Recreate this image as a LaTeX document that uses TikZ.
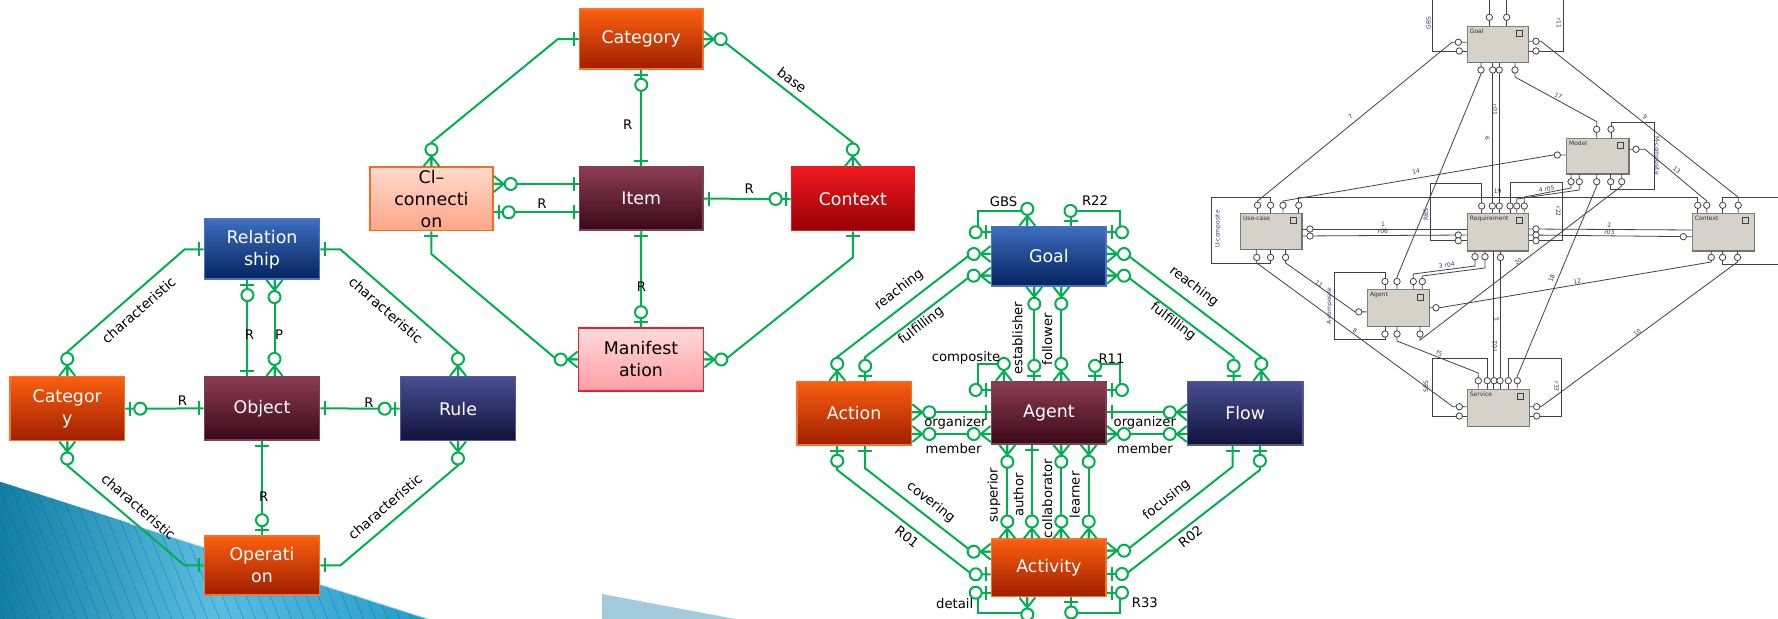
\documentclass[tikz,border=0pt]{standalone}
\usepackage{fontspec}
\setmainfont{DejaVu Sans}
\usetikzlibrary{calc}
\definecolor{erg}{RGB}{0,176,80}
\definecolor{orT}{RGB}{250,95,15}\definecolor{orB}{RGB}{160,30,0}\definecolor{orD}{RGB}{245,115,45}
\definecolor{blT}{RGB}{60,110,190}\definecolor{blB}{RGB}{5,35,95}\definecolor{blD}{RGB}{75,115,195}
\definecolor{mrT}{RGB}{140,60,82}\definecolor{mrB}{RGB}{58,8,24}\definecolor{mrD}{RGB}{125,65,85}
\definecolor{nvT}{RGB}{72,78,145}\definecolor{nvB}{RGB}{16,18,58}\definecolor{nvD}{RGB}{85,90,150}
\definecolor{rdT}{RGB}{240,25,30}\definecolor{rdB}{RGB}{150,0,5}\definecolor{rdD}{RGB}{225,30,35}
\definecolor{saT}{RGB}{255,218,205}\definecolor{saB}{RGB}{255,165,135}\definecolor{saD}{RGB}{240,110,40}
\definecolor{pkT}{RGB}{255,218,218}\definecolor{pkB}{RGB}{255,158,165}\definecolor{pkD}{RGB}{225,35,50}
\definecolor{tlA}{RGB}{18,125,165}\definecolor{tlB}{RGB}{90,190,225}\definecolor{tlC}{RGB}{35,155,200}
\definecolor{tlS}{RGB}{10,95,130}\definecolor{dcLight}{RGB}{162,203,221}
\definecolor{scol}{RGB}{65,65,65}\definecolor{stxt}{RGB}{55,55,105}\definecolor{sfill}{RGB}{214,210,202}
\tikzset{
 erl/.style={draw=erg,line width=1pt},
 ebox/.style={rectangle,line width=0.8pt,inner sep=0pt,align=center,text=white,font=\fontsize{8.7}{11}\selectfont},
 bOr/.style={ebox,top color=orT,bottom color=orB,draw=orD},
 bBl/.style={ebox,top color=blT,bottom color=blB,draw=blD},
 bMr/.style={ebox,top color=mrT,bottom color=mrB,draw=mrD},
 bNv/.style={ebox,top color=nvT,bottom color=nvB,draw=nvD},
 bRd/.style={ebox,top color=rdT,bottom color=rdB,draw=rdD},
 bSa/.style={ebox,top color=saT,bottom color=saB,draw=saD,text=black},
 bPk/.style={ebox,top color=pkT,bottom color=pkB,draw=pkD,text=black},
 elab/.style={font=\fontsize{6.6}{8}\selectfont,inner sep=0pt,text=black},
 clab/.style={elab,font=\fontsize{6.8}{8}\selectfont},
 sl/.style={draw=scol,line width=0.4pt},
 sc/.style={draw=scol,fill=white,line width=0.4pt},
 sbox/.style={rectangle,draw=gray,fill=sfill,line width=0.3pt,inner sep=0pt},
 stit/.style={font=\fontsize{3}{3.5}\selectfont,text=black!80,inner sep=0pt,anchor=north west},
 slab/.style={font=\fontsize{3}{3.5}\selectfont,text=stxt,inner sep=0pt},
 stripe/.style={draw=tlS,line width=0.3pt,opacity=0.45},
}
\newcommand\mOne[2]{\begin{scope}[shift={(#1)},rotate=#2]\draw[erl] (5,-7)--(5,7);\end{scope}}
\newcommand\mZO[2]{\begin{scope}[shift={(#1)},rotate=#2]\draw[erl] (5,-7)--(5,7);\draw[erl,fill=white] (15,0) circle[radius=6];\end{scope}}
\newcommand\mZM[2]{\begin{scope}[shift={(#1)},rotate=#2]\draw[erl] (0,-8)--(10,0)--(0,8) (0,0)--(10,0);\draw[erl,fill=white] (17,0) circle[radius=6];\end{scope}}
\begin{document}
\begin{tikzpicture}[x=0.5pt,y=-0.5pt]
\useasboundingbox (0,0) rectangle (1778,619);
% ---------- decoration
\begin{scope}
\clip (0,481.7) -- (429,619) -- (0,619) -- cycle;
\shade[left color=tlA,right color=tlC,middle color=tlB] (0,470) rectangle (430,619);
\foreach \i in {-320,-308,...,440} \draw[stripe] (\i,470) -- ++(62,155);
\end{scope}
\draw[white,opacity=0.55,line width=0.8pt] (130,523.4) -- (429,619);
\fill[dcLight] (602,594) -- (735,619) -- (602,619) -- cycle;

% ---------- left diagram
\node[bBl,minimum width=57.5pt,minimum height=30pt] (Rel) at (262,249.3) {Relation\\ship};
\node[bOr,minimum width=57.2pt,minimum height=32pt] (CatL) at (67.25,408.7) {Categor\\y};
\node[bMr,minimum width=57.5pt,minimum height=31.7pt] (Obj) at (262,408.4) {Object};
\node[bNv,minimum width=57.5pt,minimum height=32pt] (Rule) at (458,408.7) {Rule};
\node[bOr,minimum width=57.5pt,minimum height=29.5pt] (Op) at (262,565.5) {Operati\\on};

\draw[erl] (Rel.west) -- ++(-19,0) -- ($(CatL.north)+(0,-24)$) -- (CatL.north);
\draw[erl] (Rel.east) -- ++(20,0) -- ($(Rule.north)+(0,-24)$) -- (Rule.north);
\draw[erl] ($(Rel.south)+(-14.6,0)$) -- ($(Obj.north)+(-14.6,0)$);
\draw[erl] ($(Rel.south)+(12.5,0)$) -- ($(Obj.north)+(12.5,0)$);
\draw[erl] (CatL.east) -- (Obj.west);
\draw[erl] (Obj.east) -- (Rule.west);
\draw[erl] (Obj.south) -- (Op.north);
\draw[erl] (CatL.south) -- ++(0,24) -- ($(Op.west)+(-19,0)$) -- (Op.west);
\draw[erl] (Rule.south) -- ++(0,24) -- ($(Op.east)+(20,0)$) -- (Op.east);

\mOne{Rel.west}{180} \mZM{CatL.north}{90}
\mOne{Rel.east}{0} \mZM{Rule.north}{90}
\mZO{$(Rel.south)+(-14.6,0)$}{270} \mOne{$(Obj.north)+(-14.6,0)$}{90}
\mZM{$(Rel.south)+(12.5,0)$}{270} \mZM{$(Obj.north)+(12.5,0)$}{90}
\mZO{CatL.east}{0} \mOne{Obj.west}{180}
\mOne{Obj.east}{0} \mZO{Rule.west}{180}
\mOne{Obj.south}{270} \mZO{Op.north}{90}
\mZM{CatL.south}{270} \mOne{Op.west}{180}
\mZM{Rule.south}{270} \mOne{Op.east}{0}

\node[clab,rotate=41.2] (lc1) at (138.6,310) {characteristic};
\node[clab,rotate=-41.1] (lc2) at (386,310) {characteristic};
\node[clab,rotate=-41] (lc3) at (138.6,506.7) {characteristic};
\node[clab,rotate=41] (lc4) at (385,506.7) {characteristic};
\node[elab] (lr1) at (249.5,335) {R};
\node[elab] (lp1) at (279,335) {P};
\node[elab] (lr2) at (182.5,401) {R};
\node[elab] (lr3) at (369,403) {R};
\node[elab] (lr4) at (263.6,496.7) {R};

% ---------- middle top diagram
\node[bOr,minimum width=61.65pt,minimum height=29.85pt] (Cat) at (641.25,39.15) {Category};
\node[bSa,minimum width=61.45pt,minimum height=31.7pt] (Cl) at (431.45,199) {Cl–\\connecti\\on};
\node[bMr,minimum width=61.65pt,minimum height=31.35pt] (Item) at (641.25,198.65) {Item};
\node[bRd,minimum width=61.45pt,minimum height=31.7pt] (Ctx) at (852.85,199) {Context};
\node[bPk,minimum width=62.5pt,minimum height=31.5pt] (Man) at (641,359.5) {Manifest\\ation};

\draw[erl] (Cat.west) -- ++(-21,0) -- ($(Cl.north)+(0,-24)$) -- (Cl.north);
\draw[erl] (Cat.east) -- ++(17,0) -- ($(Ctx.north)+(0,-24)$) -- (Ctx.north);
\draw[erl] (Cat.south) -- (Item.north);
\draw[erl] (Cl.east |- 0,184) -- (Item.west |- 0,184);
\draw[erl] (Cl.east |- 0,212.3) -- (Item.west |- 0,212.3);
\draw[erl] (Item.east) -- (Ctx.west);
\draw[erl] (Item.south) -- (Man.north);
\draw[erl] (Cl.south) -- ++(0,22.6) -- ($(Man.west)+(-21,0)$) -- (Man.west);
\draw[erl] (Ctx.south) -- ++(0,26) -- ($(Man.east)+(21,0)$) -- (Man.east);

\mOne{Cat.west}{180} \mZM{Cl.north}{90}
\mZM{Cat.east}{0} \mZM{Ctx.north}{90}
\mZO{Cat.south}{270} \mOne{Item.north}{90}
\mZM{Cl.east |- 0,184}{0} \mOne{Item.west |- 0,184}{180}
\mZO{Cl.east |- 0,212.3}{0} \mOne{Item.west |- 0,212.3}{180}
\mOne{Item.east}{0} \mZO{Ctx.west}{180}
\mOne{Item.south}{270} \mZO{Man.north}{90}
\mOne{Cl.south}{270} \mZM{Man.west}{180}
\mOne{Ctx.south}{270} \mZM{Man.east}{0}

\node[clab,rotate=-37.8] (lbase) at (792,80) {base};
\node[elab] (lm1) at (627.8,124.3) {R};
\node[elab] (lm2) at (542,203.3) {R};
\node[elab] (lm3) at (749.2,188.3) {R};
\node[elab] (lm4) at (641.4,286.7) {R};

% ---------- middle right diagram
\node[bBl,minimum width=57.35pt,minimum height=29.65pt] (Goal) at (1048.85,256.35) {Goal};
\node[bOr,minimum width=57.35pt,minimum height=31.65pt] (Act) at (854.15,413.35) {Action};
\node[bMr,minimum width=57.35pt,minimum height=31.15pt] (Agent) at (1048.85,412.85) {Agent};
\node[bNv,minimum width=57.55pt,minimum height=31.65pt] (Flow) at (1245.15,413.35) {Flow};
\node[bOr,minimum width=57.35pt,minimum height=28.7pt] (Acty) at (1048.85,568) {Activity};

\draw[erl] (Goal.west |- 0,232.3) -| (977.5,210.7) -| (Goal.north -| 1027.3,0);
\draw[erl] (Goal.north -| 1070.5,0) |- (1120.3,210.7) |- (Goal.east |- 0,232.3);
\draw[erl] (Goal.west |- 0,254) -- (971,254) -- (837.2,357) -- (Act.north -| 837.2,0);
\draw[erl] (Goal.west |- 0,275.7) -- (971,275.7) -- (865.2,357) -- (Act.north -| 865.2,0);
\draw[erl] (Goal.east |- 0,254) -- (1126,254) -- (1261.3,357) -- (Flow.north -| 1261.3,0);
\draw[erl] (Goal.east |- 0,275.7) -- (1126,275.7) -- (1233.6,357) -- (Flow.north -| 1233.6,0);
\draw[erl] (Goal.south -| 1034.3,0) -- (Agent.north -| 1034.3,0);
\draw[erl] (Goal.south -| 1061.3,0) -- (Agent.north -| 1061.3,0);
\draw[erl] (Agent.west |- 0,390) -| (977.5,364.5) -| (Agent.north -| 1003.8,0);
\draw[erl] (Agent.north -| 1095,0) |- (1120.3,364.5) |- (Agent.east |- 0,390);
\draw[erl] (Act.east |- 0,412.3) -- (Agent.west |- 0,412.3);
\draw[erl] (Act.east |- 0,434) -- (Agent.west |- 0,434);
\draw[erl] (Agent.east |- 0,412.3) -- (Flow.west |- 0,412.3);
\draw[erl] (Agent.east |- 0,434) -- (Flow.west |- 0,434);
\draw[erl] (Agent.south -| 1007.3,0) -- (Acty.north -| 1007.3,0);
\draw[erl] (Agent.south -| 1031.9,0) -- (Acty.north -| 1031.9,0);
\draw[erl] (Agent.south -| 1061.3,0) -- (Acty.north -| 1061.3,0);
\draw[erl] (Agent.south -| 1088.7,0) -- (Acty.north -| 1088.7,0);
\draw[erl] (Act.south -| 837.2,0) -- (837.2,470) -- (972,574.3) -- (Acty.west |- 0,574.3);
\draw[erl] (Act.south -| 865.2,0) -- (865.2,468.3) -- (972,551.7) -- (Acty.west |- 0,551.7);
\draw[erl] (Flow.south -| 1232.5,0) -- (1232.5,466.7) -- (1126,550.7) -- (Acty.east |- 0,550.7);
\draw[erl] (Flow.south -| 1259.9,0) -- (1259.9,470) -- (1126,574) -- (Acty.east |- 0,574);
\draw[erl] (Acty.west |- 0,592.7) -| (977.5,613.3) -| (Acty.south -| 1027.3,0);
\draw[erl] (Acty.south -| 1071.2,0) |- (1120.3,613.3) |- (Acty.east |- 0,592.7);

\mZO{Goal.west |- 0,232.3}{180} \mZM{Goal.north -| 1027.3,0}{90}
\mZO{Goal.north -| 1070.5,0}{90} \mZO{Goal.east |- 0,232.3}{0}
\mZM{Goal.west |- 0,254}{180} \mZM{Act.north -| 837.2,0}{90}
\mZM{Goal.west |- 0,275.7}{180} \mZO{Act.north -| 865.2,0}{90}
\mZM{Goal.east |- 0,254}{0} \mZM{Flow.north -| 1261.3,0}{90}
\mZM{Goal.east |- 0,275.7}{0} \mZO{Flow.north -| 1233.6,0}{90}
\mZM{Goal.south -| 1034.3,0}{270} \mZO{Agent.north -| 1034.3,0}{90}
\mZM{Goal.south -| 1061.3,0}{270} \mZM{Agent.north -| 1061.3,0}{90}
\mZO{Agent.west |- 0,390}{180} \mZM{Agent.north -| 1003.8,0}{90}
\mZO{Agent.north -| 1095,0}{90} \mZO{Agent.east |- 0,390}{0}
\mZM{Act.east |- 0,412.3}{0} \mOne{Agent.west |- 0,412.3}{180}
\mZM{Act.east |- 0,434}{0} \mZM{Agent.west |- 0,434}{180}
\mOne{Agent.east |- 0,412.3}{0} \mZM{Flow.west |- 0,412.3}{180}
\mZM{Agent.east |- 0,434}{0} \mZM{Flow.west |- 0,434}{180}
\mZM{Agent.south -| 1007.3,0}{270} \mZM{Acty.north -| 1007.3,0}{90}
\mOne{Agent.south -| 1031.9,0}{270} \mZM{Acty.north -| 1031.9,0}{90}
\mZM{Agent.south -| 1061.3,0}{270} \mZM{Acty.north -| 1061.3,0}{90}
\mZM{Agent.south -| 1088.7,0}{270} \mZM{Acty.north -| 1088.7,0}{90}
\mZO{Act.south -| 837.2,0}{270} \mZO{Acty.west |- 0,574.3}{180}
\mOne{Act.south -| 865.2,0}{270} \mZM{Acty.west |- 0,551.7}{180}
\mOne{Flow.south -| 1232.5,0}{270} \mZM{Acty.east |- 0,550.7}{0}
\mZO{Flow.south -| 1259.9,0}{270} \mZO{Acty.east |- 0,574}{0}
\mZO{Acty.west |- 0,592.7}{180} \mZM{Acty.south -| 1027.3,0}{270}
\mZO{Acty.south -| 1071.2,0}{270} \mZO{Acty.east |- 0,592.7}{0}

\node[elab] (gbs) at (1003.5,201.7) {GBS};
\node[elab] (r22) at (1095,200.7) {R22};
\node[elab,rotate=37.6] (rl) at (899,290) {reaching};
\node[elab,rotate=37.5] (fl) at (921,326) {fulfilling};
\node[elab,rotate=-37.3] (rr) at (1194,286.5) {reaching};
\node[elab,rotate=-37.1] (fr) at (1173,322) {fulfilling};
\node[elab,rotate=90] (est) at (1017.5,338.3) {establisher};
\node[elab,rotate=90] (fol) at (1047.3,339.3) {follower};
\node[elab] (comp) at (966,357.7) {composite};
\node[elab] (r11) at (1111.5,358.3) {R11};
\node[elab] (org1) at (955.4,422.7) {organizer};
\node[elab] (mem1) at (953.6,448.3) {member};
\node[elab] (org2) at (1144.8,422.7) {organizer};
\node[elab] (mem2) at (1144.8,448.3) {member};
\node[elab,rotate=90] (sup) at (994,495) {superior};
\node[elab,rotate=90] (aut) at (1018.5,495) {author};
\node[elab,rotate=90] (col) at (1047.3,498.3) {collaborator};
\node[elab,rotate=90] (lea) at (1074.7,495) {learner};
\node[elab,rotate=-38] (cov) at (930.8,502.3) {covering};
\node[elab,rotate=-37.7] (r01) at (907,536.7) {R01};
\node[elab,rotate=38.3] (foc) at (1166.6,500) {focusing};
\node[elab,rotate=37.8] (r02) at (1190.4,536.7) {R02};
\node[elab] (det) at (954.7,603.3) {detail};
\node[elab] (r33) at (1144.8,602.7) {R33};

% ---------- screenshot diagram
\node[sbox,minimum width=30.75pt,minimum height=18.2pt] (sGoal) at (1497.55,44.2) {};
\node[sbox,minimum width=31.4pt,minimum height=17.85pt] (sModel) at (1597.4,155.85) {};
\node[sbox,minimum width=30.95pt,minimum height=18.25pt] (sUse) at (1270.85,231.25) {};
\node[sbox,minimum width=30.75pt,minimum height=18.85pt] (sReq) at (1497.55,231.85) {};
\node[sbox,minimum width=31.3pt,minimum height=18.85pt] (sCtx) at (1723.1,231.85) {};
\node[sbox,minimum width=30.95pt,minimum height=18.35pt] (sAgt) at (1397.95,307.75) {};
\node[sbox,minimum width=31.3pt,minimum height=18.75pt] (sSrv) at (1498.1,407.65) {};
\foreach \n/\t in {sGoal/Goal,sModel/Model,sUse/Use-case,sReq/Requirement,sCtx/Context,sAgt/Agent,sSrv/Service}{
 \node[stit] (t\n) at ($(\n.north west)+(3,3)$) {\t};
 \draw[scol,line width=0.3pt] ($(\n.north east)+(-12,5)$) rectangle ++(6,6);
 \draw[black!55,line width=0.7pt] (\n.north east) -- (\n.south east) -- (\n.south west);
}
% lines
\draw[sl] (1489.3,0) -- (sGoal.north -| 1489.3,0);
\draw[sl] (1506.7,0) -- (sGoal.north -| 1506.7,0);
\draw[sl] (1432.7,0) |- (sGoal.west |- 0,51);
\draw[sl] (1563.3,0) |- (sGoal.east |- 0,51);
\draw[sl] (sGoal.west |- 0,42.3) -- (1452,42.3) -- (1257.5,201) -- (sUse.north -| 1257.5,0);
\draw[sl] (sGoal.east |- 0,41.3) -- (1541,41.3) -- (1738.25,197.3) -- (sCtx.north -| 1738.25,0);
\draw[sl] (sGoal.south -| 1481,0) -- (1481,74) -- (1397,277) -- (sAgt.north -| 1397,0);
\draw[sl] (sGoal.south -| 1492.7,0) -- (sReq.north -| 1492.7,0);
\draw[sl] (sGoal.south -| 1499.3,0) -- (sReq.north -| 1499.3,0);
\draw[sl] (sGoal.south -| 1515,0) -- (1515,77) -- (1596.7,121.7) -- (sModel.north -| 1596.7,0);
\draw[sl] (sModel.north -| 1611,0) |- (1654,122.7) -- (1654,189.3) -| (sModel.south -| 1610.7,0);
\draw[sl] (sModel.west |- 0,155) -- (1553,155) -- (1283,201) -- (sUse.north -| 1283,0);
\draw[sl] (sModel.east |- 0,149.3) -- (1645,149.3) -- (1706.75,201) -- (sCtx.north -| 1706.75,0);
\draw[sl] (sModel.south -| 1579.3,0) -- (1579.3,190) -- (1516.7,199) -- (sReq.north -| 1516.7,0);
\draw[sl] (sModel.south -| 1571,0) -- (1571,188) -- (1524.3,197) -- (sReq.north -| 1524.3,0);
\draw[sl] (sReq.north -| 1510,0) |- (1562.3,182.3) |- (sReq.east |- 0,240.7);
\draw[sl] (sReq.north -| 1481.7,0) |- (1430,183.3) |- (sReq.west |- 0,240.7);
\draw[sl] (sUse.east |- 0,229) -- (sReq.west |- 0,229);
\draw[sl] (sUse.east |- 0,236) -- (sReq.west |- 0,235);
\draw[sl] (sReq.east |- 0,229) -- (sCtx.west |- 0,230);
\draw[sl] (sReq.east |- 0,235) -- (sCtx.west |- 0,236.7);
\draw[sl] (sUse.north -| 1298.75,0) |- (1697.7,197.3) -- (sCtx.north -| 1697.7,0);
\draw[sl] (sCtx.north -| 1722.7,0) |- (1778,197.3);
\draw[sl] (sCtx.south -| 1722.7,0) |- (1778,264);
\draw[sl] (sUse.north -| 1270.6,0) |- (1211.75,197.4) |- (1270.6,263.7) -- (sUse.south -| 1270.6,0);
\draw[sl] (sUse.south -| 1256.75,0) -- (1256.75,263) -- (1453,406.7) -- (sSrv.west |- 0,406.7);
\draw[sl] (sUse.south -| 1285.6,0) -- (1285.6,263) -- (1355,311.9) -- (sAgt.west |- 0,311.9);
\draw[sl] (sAgt.north -| 1385,0) |- (1334.4,272.4) |- (1385,339.5) -- (sAgt.south -| 1385,0);
\draw[sl] (sAgt.north -| 1413.3,0) -- (1413.3,274) -- (1475,266) -- (sReq.south -| 1475,0);
\draw[sl] (sAgt.north -| 1422.3,0) -- (1422.3,276) -- (1485,268) -- (sReq.south -| 1485,0);
\draw[sl] (sAgt.east |- 0,307.7) -- (1440,307.7) -- (1711.25,262) -- (sCtx.south -| 1711.25,0);
\draw[sl] (sModel.south -| 1621.7,0) -- (1621.7,186) -- (1420,340) -- (sAgt.south -| 1420,0);
\draw[sl] (sModel.south -| 1596.7,0) -- (1596.7,186) -- (1517.3,376) -- (sSrv.north -| 1517.3,0);
\draw[sl] (sAgt.south -| 1397,0) -- (1397,341) -- (1478.3,373) -- (sSrv.north -| 1478.3,0);
\draw[sl] (sReq.south -| 1493.3,0) -- (sSrv.north -| 1493.3,0);
\draw[sl] (sReq.south -| 1500,0) -- (sSrv.north -| 1500,0);
\draw[sl] (sSrv.west |- 0,416) -| (1432.7,358.3) -| (sSrv.north -| 1487.3,0);
\draw[sl] (sSrv.north -| 1508.3,0) |- (1561.7,358.3) |- (sSrv.east |- 0,416);
\draw[sl] (sSrv.east |- 0,406.7) -- (1541,406.7) -- (1737.5,262) -- (sCtx.south -| 1737.5,0);
% circles
\foreach \x/\y in {1489.3/17.3,1506.7/17.3,1458.3/42.3,1459.3/51,1536/41.3,1536/51,
 1481/70,1492.7/70,1499.3/70,1515/70,
 1596.7/129.3,1611/129.3,1557.3/155,1636/149.3,1571/181.7,1579.3/181.7,1596.7/181.7,1610.7/181.7,1621.7/181.7,
 1481.7/206,1492.3/206,1499.3/206,1510/206,1516.7/206,1524.3/206,1458.3/235,1458.3/240.7,1536/229,1536/235,1536/240.7,
 1475/256.7,1485/256.7,1500.5/257.4,
 1257.5/205.3,1270.6/205.3,1283/205.3,1298.75/205.3,1256.75/257.4,1270.6/257.4,1285.6/257.4,1310/229,1310/236,
 1697.7/205.3,1706.75/205.3,1722.7/205.3,1738.25/205.3,1711.25/257.4,1722.5/257.4,1737.5/257.4,1683.3/236.7,
 1385/281.5,1397/281.5,1413.3/281.5,1422.3/281.5,1385/334,1397/334,1420/334,1358.75/311.9,1436/307.7,
 1478.3/380.7,1487.3/380.7,1494/380.7,1500/380.7,1508.3/380.7,1517.3/380.7,1459.3/406.7,1459.3/416,1536.7/406.7,1536.7/416}
 \draw[sc] (\x,\y) circle[radius=3.2];
% labels
\node[slab,rotate=90] (sl1) at (1428.3,23.3) {GBS};
\node[slab,rotate=-90] (sl2) at (1559,23.3) {r11};
\node[slab,rotate=39] (sl3) at (1350.5,116.5) {7};
\node[slab,rotate=-39] (sl4) at (1645,116.7) {9};
\node[slab,rotate=-28] (sl5) at (1558.3,96) {17};
\node[slab,rotate=-90] (sl6) at (1495,110) {r01};
\node[slab,rotate=-90] (sl7) at (1487.3,138.3) {6};
\node[slab] (sl8) at (1497.7,191.7) {19};
\node[slab,rotate=10] (sl9) at (1416,171.7) {14};
\node[slab,rotate=-40] (sl10) at (1676.7,170) {13};
\node[slab,rotate=-90] (sl11) at (1656.7,155.7) {M-composite};
\node[slab,rotate=12] (sl12) at (1546.7,189) {4 r05};
\node[slab,rotate=90] (sl13) at (1426,215) {RBS};
\node[slab,rotate=-90] (sl14) at (1558.3,211.7) {r22};
\node[slab] (sl15) at (1383,224) {1};
\node[slab] (sl16) at (1383,231.7) {r06};
\node[slab] (sl17) at (1609.3,225) {2};
\node[slab] (sl18) at (1609.3,232.3) {r03};
\node[slab,rotate=90] (sl19) at (1218,229) {U-composite};
\node[slab,rotate=8] (sl20) at (1446.7,265) {3 r04};
\node[slab,rotate=37] (sl21) at (1518.3,261.7) {20};
\node[slab,rotate=67] (sl22) at (1551.7,278.3) {18};
\node[slab,rotate=9] (sl23) at (1577.3,281.7) {12};
\node[slab,rotate=-35] (sl24) at (1319,283.5) {11};
\node[slab,rotate=90] (sl25) at (1329.5,306) {A-composite};
\node[slab,rotate=-90] (sl26) at (1496.7,319.3) {5};
\node[slab,rotate=-35] (sl27) at (1355,330.8) {8};
\node[slab,rotate=37] (sl28) at (1637.3,332.7) {10};
\node[slab,rotate=90] (sl29) at (1495,346) {r02};
\node[slab,rotate=-20] (sl30) at (1439.3,353.3) {f5};
\node[slab,rotate=90] (sl31) at (1426,386.7) {SBS};
\node[slab,rotate=-90] (sl32) at (1556.7,386.7) {r33};
\end{tikzpicture}
\end{document}
